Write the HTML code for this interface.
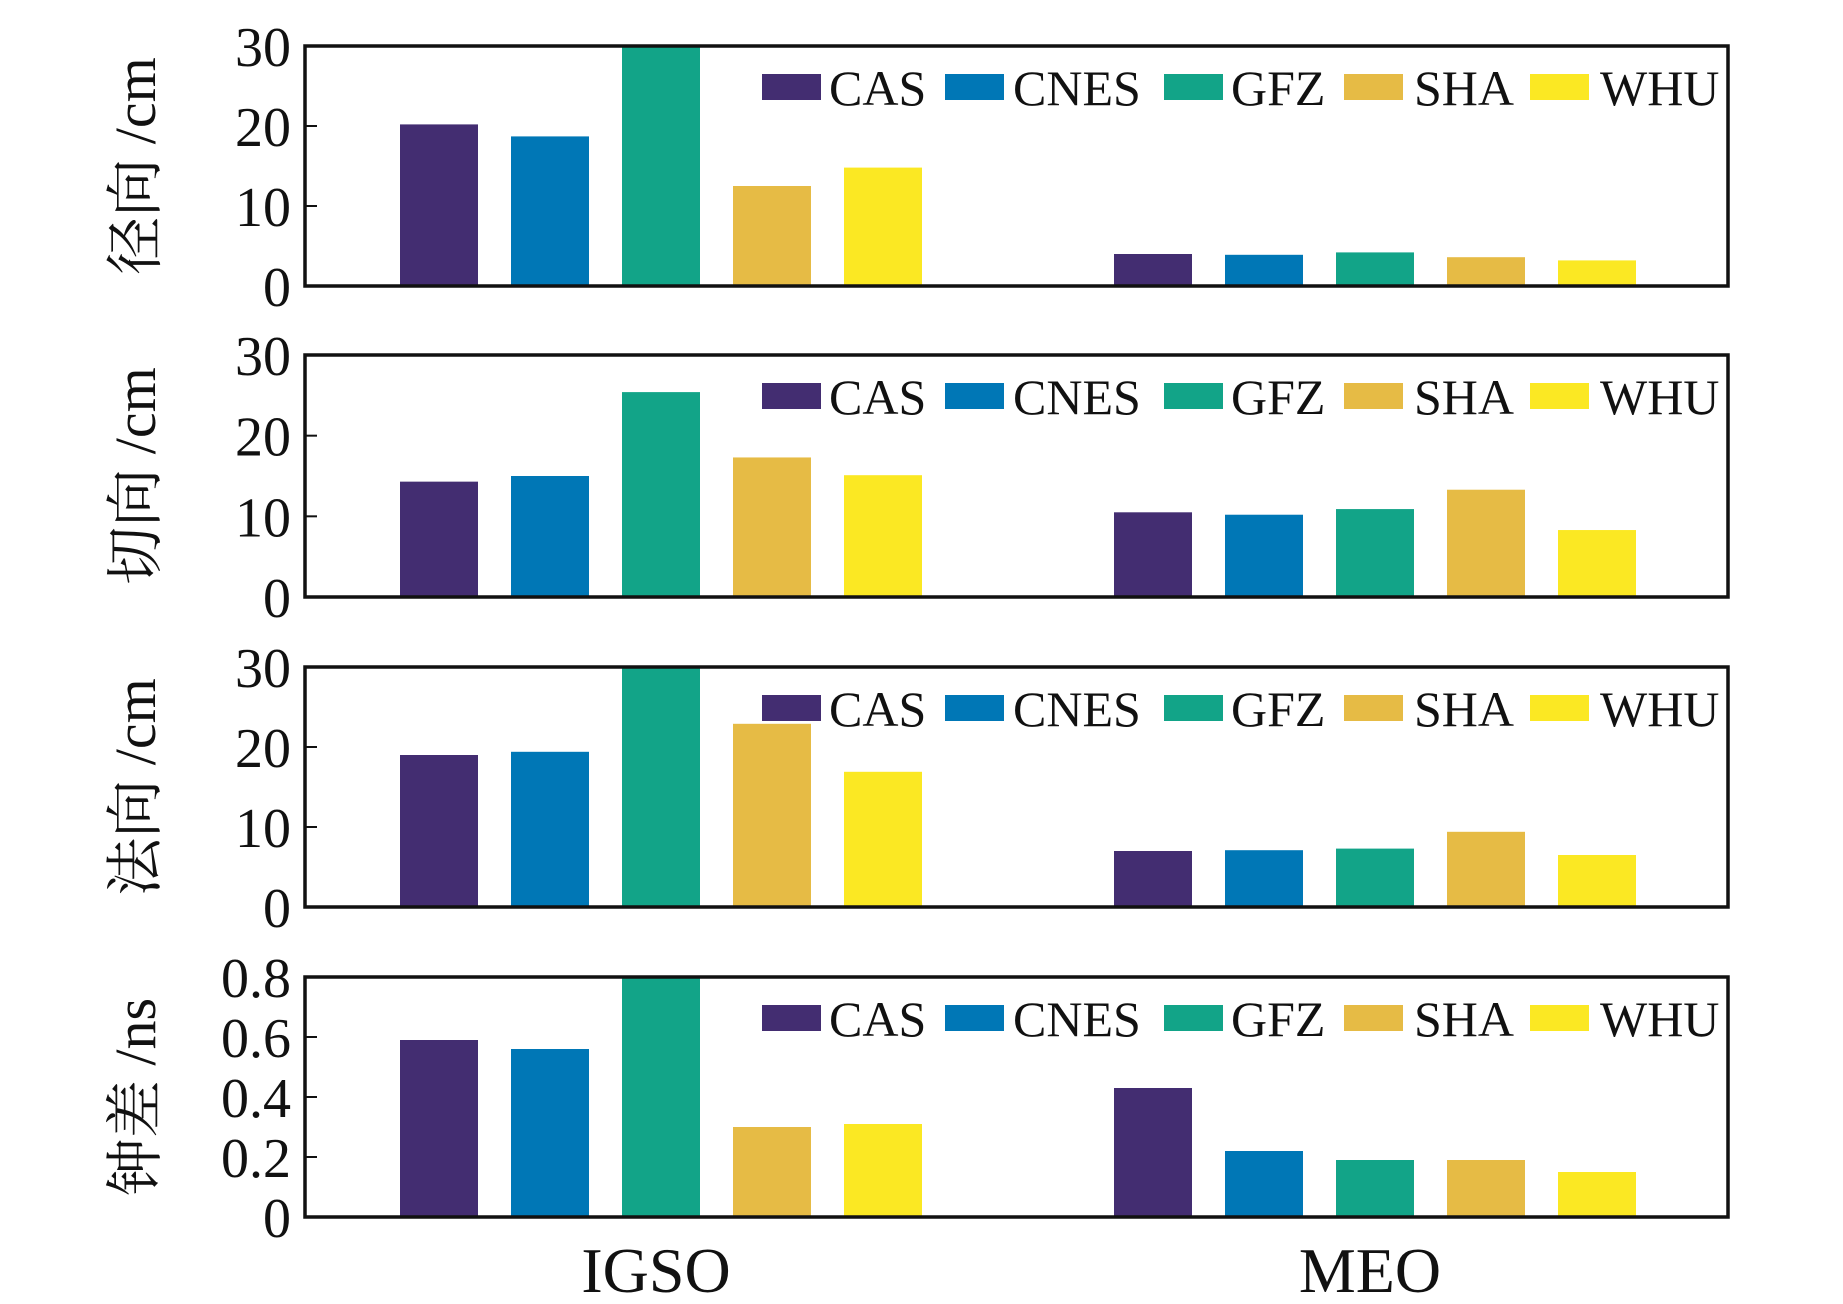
<!DOCTYPE html>
<html><head><meta charset="utf-8"><style>
html,body{margin:0;padding:0;background:#fff;}
svg text{font-family:"Liberation Serif","Noto Serif CJK SC",serif;fill:#111;}
</style></head><body>
<svg id="chart" width="1843" height="1299" viewBox="0 0 1843 1299" xmlns="http://www.w3.org/2000/svg"></svg>
<script>
const categories = ["IGSO", "MEO"];
const seriesNames = ["CAS", "CNES", "GFZ", "SHA", "WHU"];
const colors = ["#432d71", "#0077b6", "#12a488", "#e6bb45", "#fbe823"];
const radialIGSO = [20.2, 18.7, 33, 12.5, 14.8];
const radialMEO = [4.0, 3.9, 4.2, 3.6, 3.2];
const alongIGSO = [14.3, 15.0, 25.4, 17.3, 15.1];
const alongMEO = [10.5, 10.2, 10.9, 13.3, 8.3];
const crossIGSO = [19.0, 19.4, 33, 22.9, 16.9];
const crossMEO = [7.0, 7.1, 7.3, 9.4, 6.5];
const clockIGSO = [0.59, 0.56, 0.9, 0.30, 0.31];
const clockMEO = [0.43, 0.22, 0.19, 0.19, 0.15];
const cmTicks = ["0", "10", "20", "30"];
const clkTicks = ["0", "0.2", "0.4", "0.6", "0.8"];
const panelTitles = ["径向 /cm", "切向 /cm", "法向 /cm", "钟差 /ns"];

const svg = document.getElementById('chart');
const NS = 'http://www.w3.org/2000/svg';
function mk(tag, attrs, parent) {
  const e = document.createElementNS(NS, tag);
  for (const k in attrs) e.setAttribute(k, attrs[k]);
  (parent || svg).appendChild(e);
  return e;
}
const X0 = 305, X1 = 1728;
const groupCenter = [661, 1375];
const step = 111, barW = 78;
const panels = [
  {top: 46, bot: 286, max: 30, ticks: cmTicks, data: [radialIGSO, radialMEO]},
  {top: 355, bot: 597, max: 30, ticks: cmTicks, data: [alongIGSO, alongMEO]},
  {top: 667, bot: 907, max: 30, ticks: cmTicks, data: [crossIGSO, crossMEO]},
  {top: 977, bot: 1217, max: 0.8, ticks: clkTicks, data: [clockIGSO, clockMEO]}
];
panels.forEach((p, pi) => {
  const g = mk('g', {});
  
  
  const y = v => p.bot - Math.min(v, p.max) / p.max * (p.bot - p.top);
  const x = (gi, si) => groupCenter[gi] + (si - 2) * step - barW / 2;
  p.data.forEach((arr, gi) => {
    arr.forEach((v, si) => {
      const r = mk('rect', {x: x(gi, si), y: y(v), width: barW, height: p.bot - y(v), fill: colors[si]}, g);
      
      
    });
  });
  const frame = mk('rect', {x: X0, y: p.top, width: X1 - X0, height: p.bot - p.top, fill: 'none', stroke: '#111', 'stroke-width': 3.5}, g);
  
  
  p.ticks.forEach((t, ti) => {
    const v = p.max * ti / (p.ticks.length - 1);
    const ty = y(v);
    mk('line', {x1: X0, x2: X0 + 12, y1: ty, y2: ty, stroke: '#111', 'stroke-width': 2}, g);
    const tl = mk('text', {x: X0 - 14, y: ty + 20, 'text-anchor': 'end', 'font-size': 56}, g);
    tl.textContent = t;
    
    
  });
  const cy = (p.top + p.bot) / 2;
  const yt = mk('text', {x: 0, y: 0, 'text-anchor': 'middle', 'font-size': 58, transform: `translate(155 ${cy}) rotate(-90)`}, g);
  yt.textContent = panelTitles[pi];
  
  
  const sw = [762, 945, 1164, 1344, 1530];
  const tx = [829, 1013, 1231, 1414, 1600];
  seriesNames.forEach((n, si) => {
    const le = mk('g', {}, g);
    
    
    mk('rect', {x: sw[si], y: p.top + 28, width: 59, height: 26, fill: colors[si]}, le);
    const lt = mk('text', {x: tx[si], y: p.top + 59, 'font-size': 50}, le);
    lt.textContent = n;
  });
});
categories.forEach((c, gi) => {
  const t = mk('text', {x: groupCenter[gi] - 5, y: 1292, 'text-anchor': 'middle', 'font-size': 64});
  t.textContent = c;
  
  
});
</script>
</body></html>
